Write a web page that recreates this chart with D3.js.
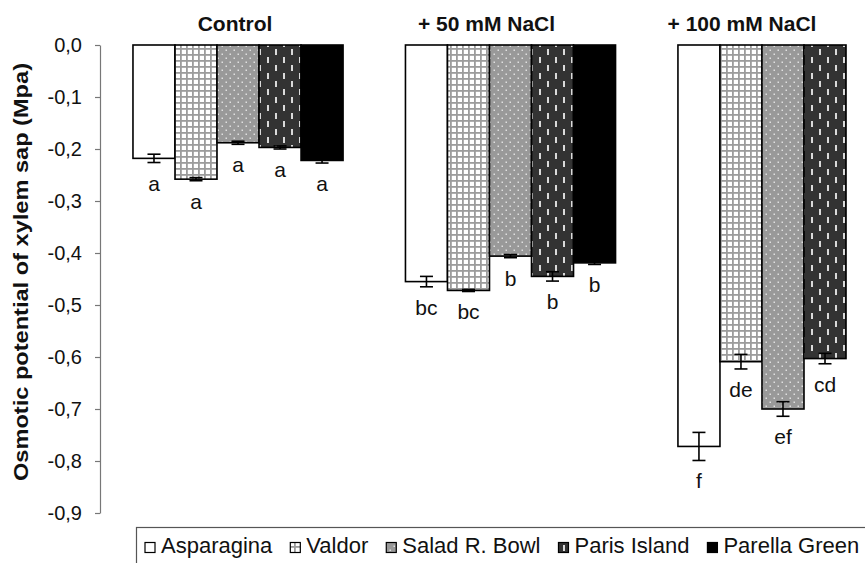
<!DOCTYPE html>
<html>
<head>
<meta charset="utf-8">
<script src="https://cdn.jsdelivr.net/npm/d3@7"></script>
<style>
  html, body { margin: 0; padding: 0; background: #fff; }
  svg { display: block; font-family: "Liberation Sans", Arial, sans-serif; }
</style>
</head>
<body>
<svg id="chart" width="865" height="563"></svg>
<script>
// Treatments (groups) and lettuce cultivars (series)
const groups = ["Control", "+ 50 mM NaCl", "+ 100 mM NaCl"];
const cultivars = ["Asparagina", "Valdor", "Salad R. Bowl", "Paris Island", "Parella Green"];

// Osmotic potential of xylem sap (MPa), one array per treatment
const controlValues = [-0.218, -0.258, -0.188, -0.197, -0.222];
const nacl50Values  = [-0.455, -0.472, -0.406, -0.445, -0.419];
const nacl100Values = [-0.772, -0.609, -0.700, -0.603, null];

// Standard errors
const controlErrors = [0.008, 0.003, 0.003, 0.003, 0.005];
const nacl50Errors  = [0.010, 0.002, 0.003, 0.009, 0.003];
const nacl100Errors = [0.027, 0.014, 0.014, 0.010, null];

// Significance letters
const controlLetters = ["a", "a", "a", "a", "a"];
const nacl50Letters  = ["bc", "bc", "b", "b", "b"];
const nacl100Letters = ["f", "de", "ef", "cd", ""];

// Y axis ticks
const yTicks = [0, -0.1, -0.2, -0.3, -0.4, -0.5, -0.6, -0.7, -0.8, -0.9];

const values  = [controlValues, nacl50Values, nacl100Values];
const errors  = [controlErrors, nacl50Errors, nacl100Errors];
const letters = [controlLetters, nacl50Letters, nacl100Letters];

const rows = [];
groups.forEach((g, gi) => {
  cultivars.forEach((c, ci) => {
    if (values[gi][ci] == null) return;
    rows.push({ group: g, cultivar: c, value: values[gi][ci], err: errors[gi][ci], letter: letters[gi][ci] });
  });
});

const svg = d3.select("#chart");

// ---- fills for each cultivar ----
const defs = svg.append("defs");

const pGrid = defs.append("pattern").attr("id", "pat-grid")
  .attr("patternUnits", "userSpaceOnUse").attr("width", 6).attr("height", 6);
pGrid.append("rect").attr("width", 6).attr("height", 6).attr("fill", "#9c9c9c");
pGrid.append("rect").attr("x", 1.8).attr("y", 1.8).attr("width", 4.2).attr("height", 4.2).attr("fill", "#fff");

const pDots = defs.append("pattern").attr("id", "pat-dots")
  .attr("patternUnits", "userSpaceOnUse").attr("width", 8).attr("height", 8);
pDots.append("rect").attr("width", 8).attr("height", 8).attr("fill", "#999");
pDots.append("rect").attr("x", 1.5).attr("y", 1.5).attr("width", 1.5).attr("height", 1.5).attr("fill", "#e0e0e0");
pDots.append("rect").attr("x", 5.5).attr("y", 5.5).attr("width", 1.5).attr("height", 1.5).attr("fill", "#e0e0e0");

const pDash = defs.append("pattern").attr("id", "pat-dash")
  .attr("patternUnits", "userSpaceOnUse").attr("width", 16).attr("height", 16);
pDash.append("rect").attr("width", 16).attr("height", 16).attr("fill", "#333");
pDash.append("rect").attr("x", 3).attr("y", 1).attr("width", 2).attr("height", 6).attr("fill", "#dadada");
pDash.append("rect").attr("x", 11).attr("y", 9).attr("width", 2).attr("height", 6).attr("fill", "#dadada");

const fill = d3.scaleOrdinal()
  .domain(cultivars)
  .range(["#ffffff", "url(#pat-grid)", "url(#pat-dots)", "url(#pat-dash)", "#000000"]);

// ---- scales ----
const y = d3.scaleLinear().domain([0, -0.9]).range([45, 513]);

const x0 = d3.scaleBand().domain(groups).range([100, 921])
  .paddingInner(0.229).paddingOuter(0.121);
const x1 = d3.scaleBand().domain(cultivars).range([0, x0.bandwidth()]);

// ---- y axis ----
const locale = d3.formatLocale({ decimal: ",", thousands: ".", grouping: [3], currency: ["", ""], minus: "-" });
const fmt = locale.format(".1f");

const yAxis = svg.append("g")
  .attr("transform", "translate(100,0)")
  .call(d3.axisLeft(y).tickValues(yTicks).tickFormat(fmt).tickSize(5).tickPadding(13).tickSizeOuter(0));
yAxis.select(".domain").attr("stroke", "#777").attr("stroke-width", 1.2);
yAxis.selectAll(".tick line").attr("stroke", "#777").attr("stroke-width", 1.2);
yAxis.selectAll(".tick text")
  .attr("font-family", "\"Liberation Sans\", Arial, sans-serif")
  .attr("font-size", 20).attr("fill", "#111");

svg.append("text")
  .attr("transform", "translate(27.5,272) rotate(-90)")
  .attr("text-anchor", "middle")
  .attr("font-size", 21).attr("font-weight", "bold").attr("fill", "#111")
  .attr("textLength", 418).attr("lengthAdjust", "spacingAndGlyphs")
  .text("Osmotic potential of xylem sap (Mpa)");

// ---- group titles ----
const titleShift = [-3, -24, -41];
svg.append("g").selectAll("text").data(groups).join("text")
  .attr("x", (d, i) => x0(d) + x0.bandwidth() / 2 + titleShift[i])
  .attr("y", 31)
  .attr("text-anchor", "middle")
  .attr("font-size", 21).attr("font-weight", "bold").attr("fill", "#111")
  .text(d => d);

// ---- bars ----
const barX = d => x0(d.group) + x1(d.cultivar);

svg.append("g").selectAll("rect").data(rows).join("rect")
  .attr("x", barX)
  .attr("y", y(0))
  .attr("width", x1.bandwidth())
  .attr("height", d => y(d.value) - y(0))
  .attr("fill", d => fill(d.cultivar))
  .attr("stroke", "#000").attr("stroke-width", 1.6);

// ---- error bars ----
const cap = 6.5;
const eb = svg.append("g").attr("stroke", "#000").attr("stroke-width", 1.6);
rows.forEach(d => {
  const cx = barX(d) + x1.bandwidth() / 2;
  const yt = y(d.value + d.err), yb = y(d.value - d.err);
  eb.append("line").attr("x1", cx).attr("x2", cx).attr("y1", yt).attr("y2", yb);
  eb.append("line").attr("x1", cx - cap).attr("x2", cx + cap).attr("y1", yt).attr("y2", yt);
  eb.append("line").attr("x1", cx - cap).attr("x2", cx + cap).attr("y1", yb).attr("y2", yb);
});

// ---- significance letters ----
svg.append("g").selectAll("text").data(rows).join("text")
  .attr("x", d => barX(d) + x1.bandwidth() / 2)
  .attr("y", d => y(d.value - d.err) + 28)
  .attr("text-anchor", "middle")
  .attr("font-size", 21).attr("fill", "#111")
  .text(d => d.letter);

// ---- legend ----
const legend = svg.append("g");
legend.append("rect")
  .attr("x", 136.5).attr("y", 527.5).attr("width", 800).attr("height", 80)
  .attr("fill", "#fff").attr("stroke", "#555").attr("stroke-width", 1.2);

let lx = 161;
cultivars.forEach(c => {
  legend.append("rect")
    .attr("x", lx - 16).attr("y", 542.5).attr("width", 10).attr("height", 10)
    .attr("fill", fill(c)).attr("stroke", "#000").attr("stroke-width", 1.2);
  const t = legend.append("text")
    .attr("x", lx).attr("y", 553)
    .attr("font-size", 22).attr("fill", "#111")
    .text(c);
  lx += t.node().getComputedTextLength() + 34;
});
</script>
</body>
</html>
